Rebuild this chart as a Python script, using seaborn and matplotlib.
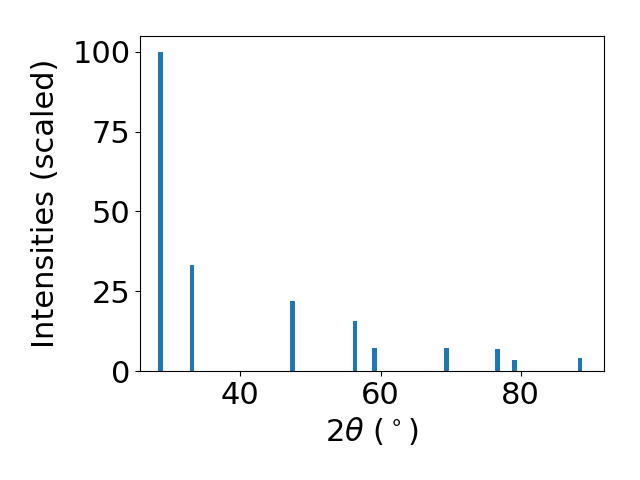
"""XRD pattern: scaled intensities vs 2theta."""
import matplotlib
matplotlib.use("Agg")
import matplotlib.pyplot as plt
import numpy as np
import pandas as pd
import seaborn as sns

two_theta = [28.55, 33.08, 47.48, 56.34, 59.09, 69.42, 76.70, 79.08, 88.44]
intensity = [100.0, 33.2, 21.9, 15.7, 7.2, 7.1, 6.8, 3.4, 4.1]

BAR_WIDTH = 0.68  # in degrees

df = pd.DataFrame({"two_theta": two_theta, "intensity": intensity})
min_gap = np.min(np.diff(sorted(two_theta)))

fig, ax = plt.subplots(figsize=(6.4, 4.8), dpi=100)
sns.barplot(
    data=df, x="two_theta", y="intensity", native_scale=True,
    width=BAR_WIDTH / min_gap, color="#1f77b4", saturation=1,
    errorbar=None, ax=ax,
)
ax.set_xlabel(r"$2\theta$ ($^\circ$)", fontsize=22)
ax.set_ylabel("Intensities (scaled)", fontsize=22, labelpad=9)
ax.tick_params(labelsize=22)
ax.set_xticks([40, 60, 80])
ax.set_yticks([0, 25, 50, 75, 100])
ax.set_xlim(25.7, 91.9)
ax.set_ylim(0, 105)

fig.subplots_adjust(left=0.219, right=0.944, top=0.925, bottom=0.227)
fig.savefig("out.png", dpi=100)
